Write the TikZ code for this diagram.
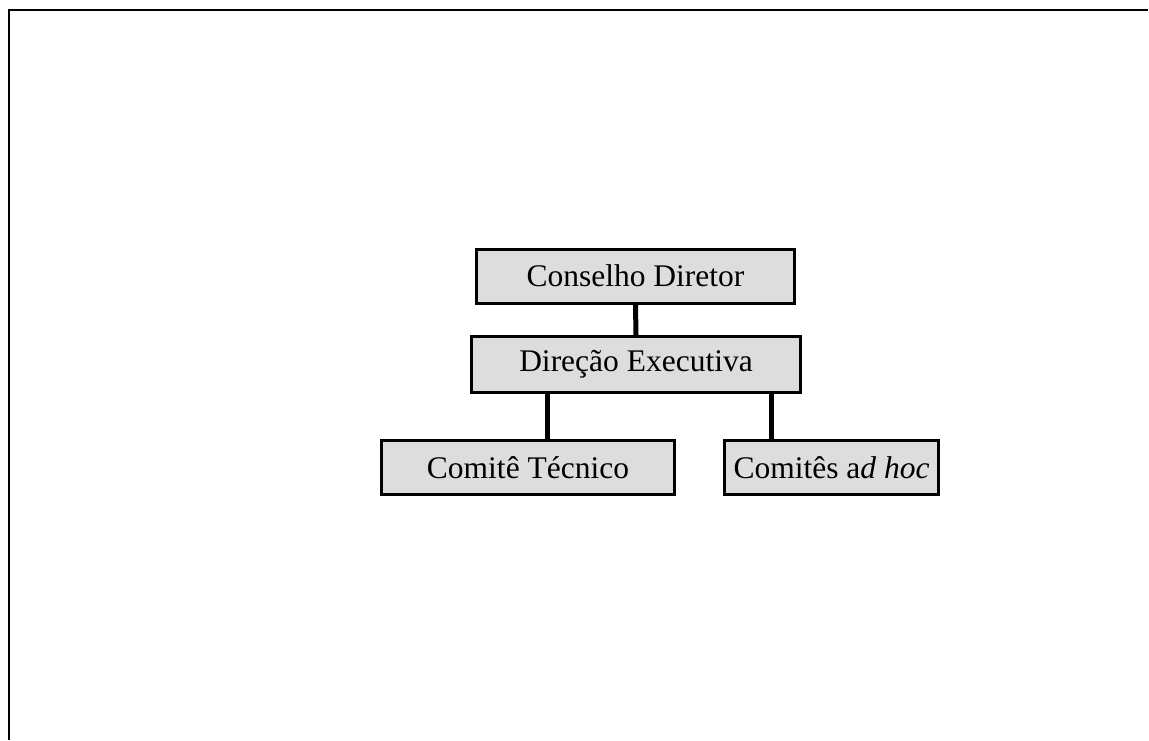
\documentclass[tikz,border=0pt]{standalone}
\usepackage{fontspec}
\setmainfont{Liberation Serif}
\begin{document}
\begin{tikzpicture}[x=1pt,y=-1pt,
  orgbox/.style={draw=black, fill=boxgray, line width=3pt, rectangle,
    inner sep=0pt, font=\fontsize{31.5}{36}\selectfont},
  link/.style={line width=5pt, line cap=round}]
\definecolor{boxgray}{HTML}{DDDDDD}
\useasboundingbox (0,0) rectangle (1149,740);
% page frame
\draw[line width=2.5pt] (9,740) -- (9,10) -- (1148,10);
% organisation chart
\node[orgbox, minimum width=318pt, minimum height=54pt] (cd) at (635.5,276) {Conselho Diretor};
\node[orgbox, minimum width=329pt, minimum height=56pt] (de) at (636,364.5) {Direção Executiva};
\node[orgbox, minimum width=293pt, minimum height=54pt] (ct) at (528,467.5) {Comitê Técnico};
\node[orgbox, minimum width=214pt, minimum height=54pt] (ca) at (831.5,467.5) {Comitês a\textit{d hoc}};
\coordinate (lx) at (547,0);
\coordinate (rx) at (771,0);
\draw[link] (cd.south) -- (de.north);
\draw[link] (lx |- de.south) -- (lx |- ct.north);
\draw[link] (rx |- de.south) -- (rx |- ca.north);
\end{tikzpicture}
\end{document}
